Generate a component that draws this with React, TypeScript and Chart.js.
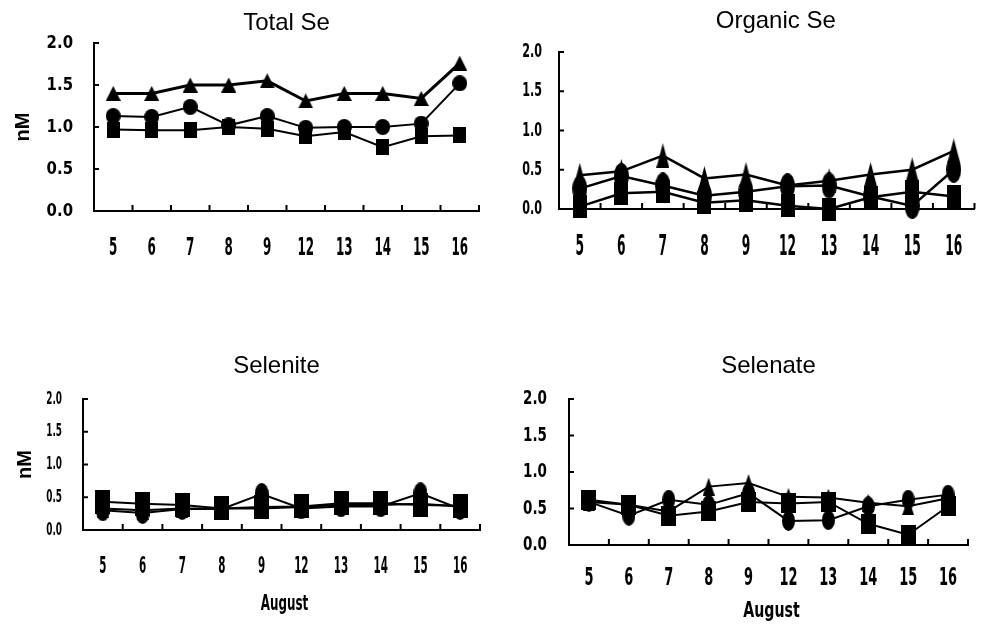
import React, { useEffect, useRef } from 'react';
import { Chart, registerables } from 'chart.js';
Chart.register(...registerables);

// ---------- data ----------
const days = ['5', '6', '7', '8', '9', '12', '13', '14', '15', '16'];
const yTickValues = [0, 0.5, 1.0, 1.5, 2.0];

const totalTriangle = [1.40, 1.40, 1.50, 1.50, 1.55, 1.31, 1.40, 1.40, 1.34, 1.76];
const totalCircle = [1.13, 1.12, 1.24, 1.02, 1.13, 0.99, 1.00, 1.00, 1.04, 1.52];
const totalSquare = [0.97, 0.96, 0.96, 1.00, 0.98, 0.89, 0.94, 0.76, 0.89, 0.90];

const organicTriangle = [0.43, 0.48, 0.68, 0.39, 0.44, 0.30, 0.36, 0.44, 0.50, 0.74];
const organicCircle = [0.26, 0.42, 0.30, 0.17, 0.22, 0.29, 0.30, 0.16, 0.04, 0.50];
const organicSquare = [0.03, 0.20, 0.22, 0.08, 0.11, 0.04, 0.00, 0.15, 0.22, 0.16];

const seleniteTriangle = [0.33, 0.30, 0.33, 0.33, 0.33, 0.35, 0.38, 0.38, 0.40, 0.36];
const seleniteCircle = [0.30, 0.26, 0.32, 0.32, 0.55, 0.33, 0.36, 0.36, 0.56, 0.32];
const seleniteSquare = [0.43, 0.40, 0.38, 0.33, 0.35, 0.36, 0.41, 0.41, 0.38, 0.37];

const selenateTriangle = [0.59, 0.55, 0.46, 0.80, 0.85, 0.66, 0.65, 0.58, 0.53, 0.64];
const selenateCircle = [0.59, 0.40, 0.62, 0.55, 0.71, 0.33, 0.34, 0.53, 0.62, 0.69];
const selenateSquare = [0.62, 0.55, 0.40, 0.46, 0.59, 0.57, 0.59, 0.29, 0.14, 0.53];

const panelTitles = ['Total Se', 'Organic Se', 'Selenite', 'Selenate'];
const yTitle = 'nM';
const xTitle = 'August';

// ---------- styles ----------
const NARROW = "'DejaVu Sans Condensed', 'Liberation Sans Narrow', 'DejaVu Sans', sans-serif";
const TITLE_FONT = "'Liberation Sans', Arial, sans-serif";

type Shape = 'triangle' | 'circle' | 'square';

function makeMarker(shape: Shape, w: number, h: number): HTMLCanvasElement {
  const c = document.createElement('canvas');
  c.width = w;
  c.height = h;
  const ctx = c.getContext('2d')!;
  ctx.fillStyle = '#000';
  ctx.beginPath();
  if (shape === 'triangle') {
    ctx.moveTo(w / 2, 0);
    ctx.lineTo(w, h);
    ctx.lineTo(0, h);
    ctx.closePath();
  } else if (shape === 'circle') {
    ctx.ellipse(w / 2, h / 2, w / 2, h / 2, 0, 0, Math.PI * 2);
  } else {
    ctx.rect(0, 0, w, h);
  }
  ctx.fill();
  return c;
}

// inward tick marks on both axes
const innerTicks = {
  id: 'innerTicks',
  afterDraw(chart: any) {
    const { ctx, chartArea, scales } = chart;
    const xs = scales.x;
    const ys = scales.y;
    ctx.save();
    ctx.strokeStyle = '#000';
    ctx.lineWidth = 2;
    ctx.beginPath();
    yTickValues.forEach((v) => {
      if (v === 0) return;
      const py = ys.getPixelForValue(v);
      ctx.moveTo(chartArea.left, py);
      ctx.lineTo(chartArea.left + 5, py);
    });
    for (let i = 1; i <= days.length; i++) {
      const px = xs.getPixelForValue(i - 0.5);
      ctx.moveTo(px, chartArea.bottom);
      ctx.lineTo(px, chartArea.bottom - 6);
    }
    ctx.stroke();
    ctx.restore();
  },
};

// panel title, condensed tick labels and axis title, as in the scanned figure
const panelText = {
  id: 'panelText',
  afterDraw(chart: any, _args: any, opts: any) {
    const { ctx, chartArea, scales } = chart;
    const xs = scales.x;
    const ys = scales.y;
    const cx = (chartArea.left + chartArea.right) / 2;
    ctx.save();
    ctx.fillStyle = '#000';
    ctx.textBaseline = 'middle';
    // panel title
    ctx.textAlign = 'center';
    ctx.font = `normal ${opts.mainSize}px ${TITLE_FONT}`;
    ctx.fillText(opts.main, cx + opts.mainDx, opts.mainY);
    // x category labels
    ctx.font = `bold ${opts.size}px ${NARROW}`;
    xs.ticks.forEach((t: any, i: number) => {
      const px = xs.getPixelForTick(i);
      const label = xs.getLabelForValue(t.value);
      ctx.save();
      ctx.translate(px, chartArea.bottom + opts.offset);
      ctx.scale(opts.sx, 1);
      ctx.fillText(label, 0, 0);
      ctx.restore();
    });
    // y value labels
    ctx.textAlign = 'right';
    ctx.font = `bold ${opts.ySize}px ${NARROW}`;
    ys.ticks.forEach((t: any) => {
      const py = ys.getPixelForValue(t.value);
      ctx.save();
      ctx.translate(chartArea.left - opts.yPad, py);
      ctx.scale(opts.ySx, 1);
      ctx.fillText(Number(t.value).toFixed(1), 0, 0);
      ctx.restore();
    });
    // x axis title
    if (opts.title) {
      ctx.textAlign = 'center';
      ctx.font = `bold ${opts.titleSize}px ${NARROW}`;
      ctx.save();
      ctx.translate(cx + opts.titleDx, opts.titleY);
      ctx.scale(opts.titleSx, 1);
      ctx.fillText(opts.title, 0, 0);
      ctx.restore();
    }
    ctx.restore();
  },
};

interface PanelCfg {
  title: string;
  left: number;
  top: number;
  width: number;
  height: number;
  yWidth: number;
  areaTop: number;
  areaBottom: number;
  padRight: number;
  titleY: number;
  titleDx: number;
  yLabelPad: number;
  yTickSize: number;
  yTickSx: number;
  xLabelOff: number;
  xTickSize: number;
  xTickSx: number;
  yTitleCenter: number | null;
  xTitleCenter: number | null;
  xTitleSx: number;
  series: number[][]; // square, circle, triangle
  sizes: { tri: [number, number]; cir: [number, number]; sq: [number, number] };
  lineWidths: [number, number, number];
}

const TITLE_SIZE = 24;
const YTITLE_SIZE = 20;
const XTITLE_SIZE = 21;

const panels: PanelCfg[] = [
  {
    title: panelTitles[0], left: 0, top: 0, width: 490, height: 280,
    yWidth: 94, areaTop: 43, areaBottom: 211, padRight: 8, titleY: 23, titleDx: 0,
    yLabelPad: 21, yTickSize: 18, yTickSx: 0.92,
    xLabelOff: 37, xTickSize: 25, xTickSx: 0.53,
    yTitleCenter: 23, xTitleCenter: null, xTitleSx: 0.63,
    series: [totalSquare, totalCircle, totalTriangle],
    sizes: { tri: [15, 15], cir: [15, 16], sq: [13, 16] },
    lineWidths: [2, 2, 3],
  },
  {
    title: panelTitles[1], left: 490, top: 0, width: 495, height: 280,
    yWidth: 69, areaTop: 52, areaBottom: 209, padRight: 2, titleY: 21, titleDx: 9,
    yLabelPad: 17, yTickSize: 20, yTickSx: 0.62,
    xLabelOff: 38, xTickSize: 29, xTickSx: 0.47,
    yTitleCenter: null, xTitleCenter: null, xTitleSx: 0.63,
    series: [organicSquare, organicCircle, organicTriangle],
    sizes: { tri: [13, 25], cir: [15, 26], sq: [14, 23] },
    lineWidths: [2.5, 2.5, 2.5],
  },
  {
    title: panelTitles[2], left: 0, top: 290, width: 490, height: 335,
    yWidth: 83, areaTop: 109, areaBottom: 240, padRight: 2, titleY: 76, titleDx: -5,
    yLabelPad: 21, yTickSize: 18, yTickSx: 0.55,
    xLabelOff: 37, xTickSize: 23, xTickSx: 0.5,
    yTitleCenter: 25, xTitleCenter: 315, xTitleSx: 0.63,
    series: [seleniteSquare, seleniteCircle, seleniteTriangle],
    sizes: { tri: [12, 20], cir: [14, 22], sq: [15, 24] },
    lineWidths: [2, 2, 2],
  },
  {
    title: panelTitles[3], left: 490, top: 290, width: 495, height: 335,
    yWidth: 79, areaTop: 109, areaBottom: 255, padRight: 17, titleY: 76, titleDx: 0,
    yLabelPad: 22, yTickSize: 20, yTickSx: 0.75,
    xLabelOff: 33, xTickSize: 25, xTickSx: 0.575,
    yTitleCenter: null, xTitleCenter: 322, xTitleSx: 0.75,
    series: [selenateSquare, selenateCircle, selenateTriangle],
    sizes: { tri: [12, 18], cir: [13, 20], sq: [15, 20] },
    lineWidths: [2, 2, 2],
  },
];

function Panel({ cfg }: { cfg: PanelCfg }) {
  const ref = useRef<HTMLCanvasElement | null>(null);
  useEffect(() => {
    if (!ref.current) return;
    const yTitleLH = YTITLE_SIZE * 1.2;
    const shapes: Shape[] = ['square', 'circle', 'triangle'];
    const sizeOf = (s: Shape) => (s === 'square' ? cfg.sizes.sq : s === 'circle' ? cfg.sizes.cir : cfg.sizes.tri);
    const datasets = cfg.series.map((data, i) => {
      const [w, h] = sizeOf(shapes[i]);
      return {
        label: shapes[i],
        data,
        borderColor: '#000',
        backgroundColor: '#000',
        borderWidth: cfg.lineWidths[i],
        pointStyle: makeMarker(shapes[i], w, h),
        pointRadius: 8,
        tension: 0,
        clip: false as any,
      };
    });
    const chart = new Chart(ref.current, {
      type: 'line',
      data: { labels: days, datasets },
      plugins: [innerTicks, panelText],
      options: {
        animation: false,
        responsive: false,
        layout: { padding: { top: cfg.areaTop, left: 0, right: cfg.padRight, bottom: 0 } },
        plugins: {
          legend: { display: false },
          tooltip: { enabled: false },
          title: { display: false },
          panelText: {
            main: cfg.title,
            mainSize: TITLE_SIZE,
            mainY: cfg.titleY,
            mainDx: cfg.titleDx,
            offset: cfg.xLabelOff,
            size: cfg.xTickSize,
            sx: cfg.xTickSx,
            yPad: cfg.yLabelPad,
            ySize: cfg.yTickSize,
            ySx: cfg.yTickSx,
            title: cfg.xTitleCenter !== null ? xTitle : null,
            titleY: cfg.xTitleCenter,
            titleSize: XTITLE_SIZE,
            titleSx: cfg.xTitleSx,
            titleDx: 3,
          },
        },
        scales: {
          x: {
            type: 'category',
            offset: true,
            grid: { display: false, drawTicks: false },
            border: { display: true, color: '#000', width: 2 },
            ticks: { display: false, autoSkip: false, maxRotation: 0 },
            afterFit: (scale: any) => { scale.height = cfg.height - cfg.areaBottom; },
          },
          y: {
            min: 0,
            max: 2,
            grid: { display: false, drawTicks: false },
            border: { display: true, color: '#000', width: 2 },
            ticks: { display: false, stepSize: 0.5 },
            title: cfg.yTitleCenter !== null ? {
              display: true,
              text: yTitle,
              color: '#000',
              font: { family: TITLE_FONT, size: YTITLE_SIZE, weight: 'bold' },
              padding: { top: (cfg.yTitleCenter as number) - yTitleLH / 2, bottom: 0 },
            } : { display: false },
            afterFit: (scale: any) => { scale.width = cfg.yWidth; },
          },
        },
      } as any,
    });
    return () => chart.destroy();
  }, [cfg]);
  return (
    <canvas
      ref={ref}
      width={cfg.width}
      height={cfg.height}
      style={{ position: 'absolute', left: cfg.left, top: cfg.top, width: cfg.width, height: cfg.height }}
    />
  );
}

export default function App() {
  return (
    <div style={{ position: 'absolute', left: 0, top: 0, width: 985, height: 625, background: '#fff' }}>
      {panels.map((p) => (
        <Panel key={p.title} cfg={p} />
      ))}
    </div>
  );
}
